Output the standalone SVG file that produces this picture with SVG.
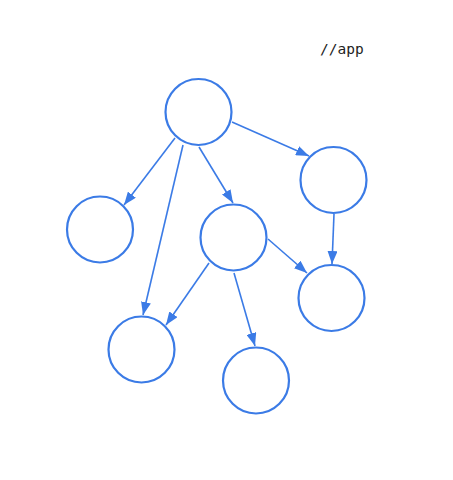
<svg xmlns="http://www.w3.org/2000/svg" width="453" height="480" viewBox="0 0 453 480">
<style>
.n{fill:#fff;stroke:#3b7be6;stroke-width:2.2}
.e{stroke:#3b7be6;stroke-width:1.6;fill:none;marker-end:url(#a)}
.t{font-family:"DejaVu Sans Mono","Liberation Mono",monospace;font-size:14.5px;fill:#222}
</style>
<defs>
<marker id="a" markerUnits="userSpaceOnUse" markerWidth="14" markerHeight="10" viewBox="0 0 14 10" refX="13" refY="5" orient="auto">
<path d="M0,0 L13,5 L0,10 Z" fill="#3b7be6"/>
</marker>
</defs>
<rect width="453" height="480" fill="#fff"/>
<text class="t" x="320" y="54">//app</text>
<g id="edges">
<line class="e" x1="232" y1="122" x2="309" y2="156"/>
<line class="e" x1="199" y1="147" x2="233" y2="203"/>
<line class="e" x1="175" y1="138" x2="124" y2="205"/>
<line class="e" x1="183" y1="145" x2="143" y2="315"/>
<line class="e" x1="334" y1="214" x2="332" y2="264"/>
<line class="e" x1="268" y1="239" x2="307" y2="273"/>
<line class="e" x1="209" y1="263" x2="166" y2="325"/>
<line class="e" x1="234" y1="273" x2="255" y2="346"/>
</g>
<g id="root"><circle class="n" cx="198.5" cy="112" r="33"/></g>
<g id="right"><circle class="n" cx="333.5" cy="180" r="33"/></g>
<g id="left"><circle class="n" cx="100" cy="229.5" r="33"/></g>
<g id="middle"><circle class="n" cx="233.5" cy="237.5" r="33"/></g>
<g id="rightlower"><circle class="n" cx="331.5" cy="298" r="33"/></g>
<g id="bottomleft"><circle class="n" cx="141.5" cy="349.5" r="33"/></g>
<g id="bottommid"><circle class="n" cx="256" cy="380.5" r="33"/></g>
</svg>
